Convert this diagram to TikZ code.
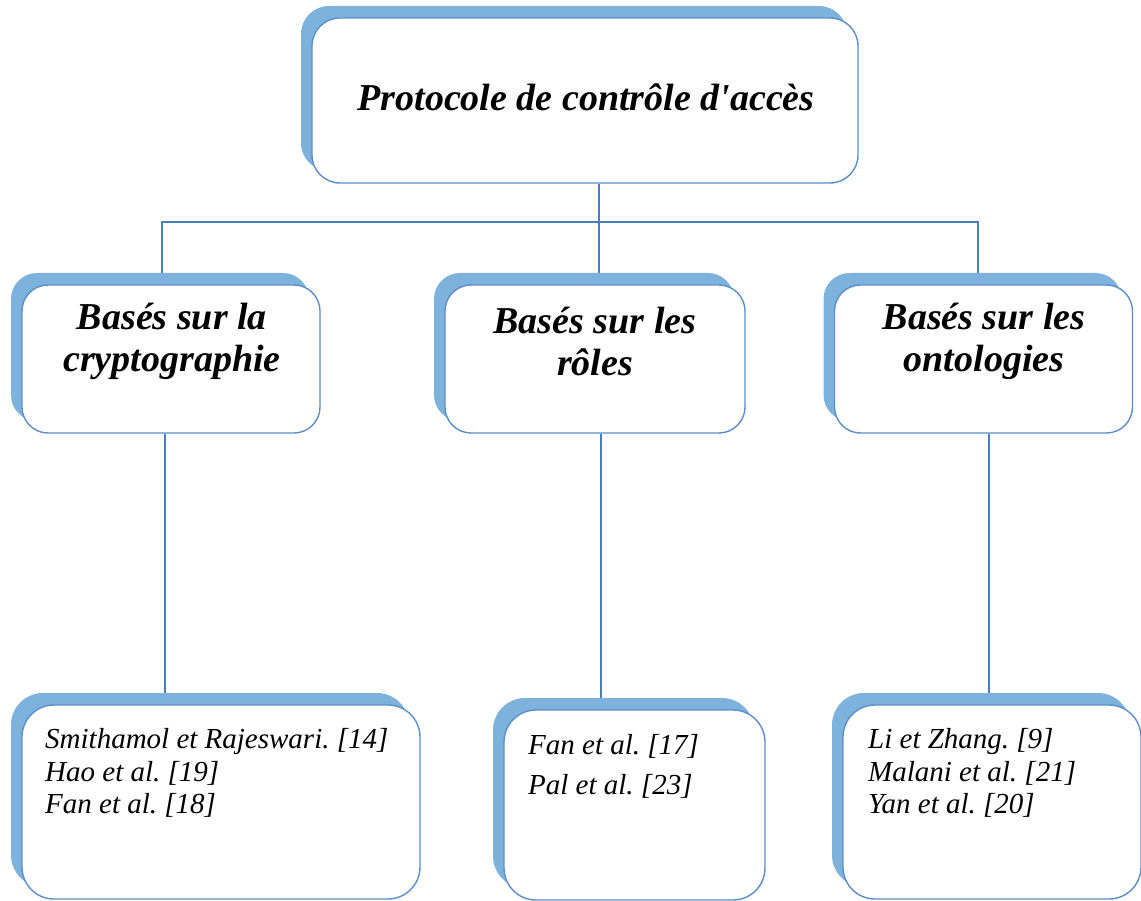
\documentclass[tikz,border=0pt]{standalone}
\usepackage{fontspec}
\setmainfont{Liberation Serif}[Ligatures=TeXOff]
\usetikzlibrary{shadows,backgrounds}

\definecolor{shadowblue}{RGB}{125,178,220}
\definecolor{edgeblue}{RGB}{92,142,201}
\definecolor{linkblue}{RGB}{72,126,190}

\tikzset{
  box/.style={draw=edgeblue, line width=1.4pt, fill=white, inner sep=0pt,
    rounded corners=#1,
    general shadow={fill=shadowblue, shadow xshift=-11pt, shadow yshift=12pt}},
  box/.default=26pt,
  head/.style={font=\fontsize{38}{42}\selectfont\bfseries\itshape, align=center, inner sep=0pt},
  refs/.style={font=\fontsize{29}{32.5}\selectfont\itshape\frenchspacing, align=left, inner sep=0pt, anchor=north west},
  link/.style={draw=linkblue, line width=1.3pt},
}

\begin{document}
\begin{tikzpicture}[x=1pt, y=-1pt]
  \useasboundingbox (0,0) rectangle (1141,901);
  \clip (0,0) rectangle (1141,901);

  % root
  \node[box=28pt, minimum width=546pt, minimum height=165pt] (top) at (585,100.5) {};
  \node[head] (top-t) at (586,97) {Protocole de contrôle d'accès};

  % three families
  \node[box, minimum width=298pt, minimum height=148pt] (crypto) at (171,359) {};
  \node[head] (crypto-t) at (172,341) {Basés sur la\\cryptographie};
  \node[box, minimum width=300pt, minimum height=148pt] (roles) at (595,359) {};
  \node[head] (roles-t) at (595,341) {Basés sur les\\rôles};
  \node[box, minimum width=298pt, minimum height=148pt] (ontol) at (983.5,359) {};
  \node[head] (ontol-t) at (984,341) {Basés sur les\\ontologies};

  % references of each family
  \node[box=32pt, minimum width=398pt, minimum height=194pt] (refA) at (221,802) {};
  \node[refs] (refA-t) at (45,728.5) {Smithamol et Rajeswari. [14]\\Hao et al. [19]\\Fan et al. [18]};
  \node[box=32pt, minimum width=261pt, minimum height=190pt] (refB) at (634.5,805) {};
  \node[refs, font=\fontsize{29}{40}\selectfont\itshape\frenchspacing] (refB-t) at (528,734.5) {Fan et al. [17]\\Pal et al. [23]};
  \node[box=32pt, minimum width=298pt, minimum height=194pt] (refC) at (992,802) {};
  \node[refs] (refC-t) at (868,728.5) {Li et Zhang. [9]\\Malani et al. [21]\\Yan et al. [20]};

  % connectors
  \coordinate (hub) at (599,222);
  \coordinate (jl) at (162,222);
  \coordinate (jr) at (978,222);
  \coordinate (dl) at (165,0);
  \coordinate (dm) at (601,0);
  \coordinate (dr) at (989,0);
  \begin{scope}[on background layer]
    \draw[link] (top.south -| hub) -- (hub);
    \draw[link] (crypto.north -| jl) -- (jl) -- (jr) -- (ontol.north -| jr);
    \draw[link] (hub) -- (roles.north -| hub);
    \draw[link] (crypto.south -| dl) -- (refA.north -| dl);
    \draw[link] (roles.south -| dm) -- (refB.north -| dm);
    \draw[link] (ontol.south -| dr) -- (refC.north -| dr);
  \end{scope}
\end{tikzpicture}
\end{document}
